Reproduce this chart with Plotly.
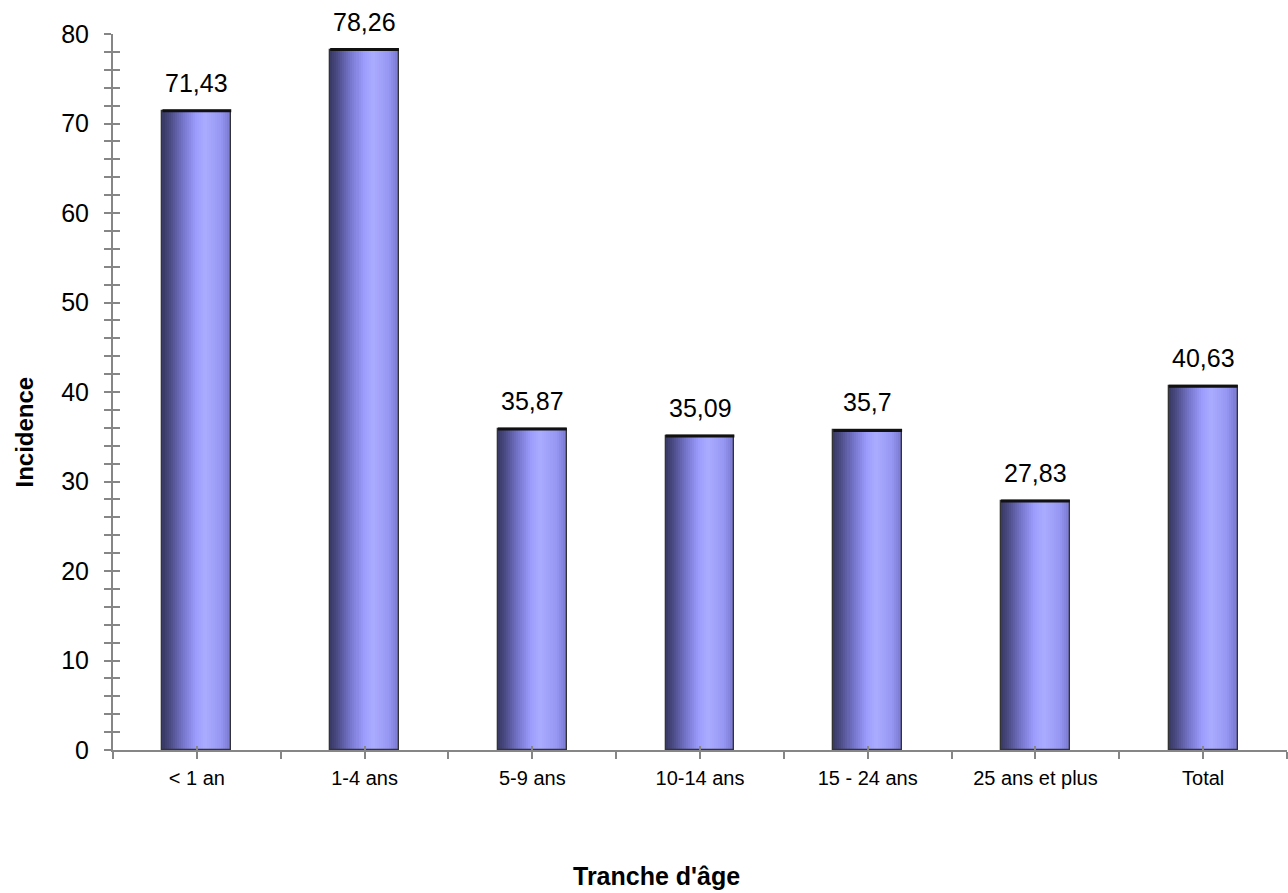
import plotly.graph_objects as go

# ---- data ----
categories = ["< 1 an", "1-4 ans", "5-9 ans", "10-14 ans", "15 - 24 ans", "25 ans et plus", "Total"]
incidence = [71.43, 78.26, 35.87, 35.09, 35.7, 27.83, 40.63]
value_labels = ["71,43", "78,26", "35,87", "35,09", "35,7", "27,83", "40,63"]
y_tick_vals = [0, 10, 20, 30, 40, 50, 60, 70, 80]

# ---- layout constants ----
W, H = 1288, 893
ML, MR, MT, MB = 113, 1, 34, 143
plot_w = W - ML - MR
BAR_W = 0.41
FONT = "Liberation Sans, Arial, sans-serif"
AXIS_COL = "#868686"

xpos = list(range(len(categories)))

# horizontal shading stops for the cylinder look
stops = [(0.0, (56, 56, 98)), (0.12, (78, 78, 138)), (0.3, (118, 118, 205)),
         (0.48, (155, 155, 252)), (0.62, (170, 172, 255)), (0.85, (150, 150, 243)),
         (1.0, (118, 118, 205))]


def shade(t):
    for (t0, c0), (t1, c1) in zip(stops[:-1], stops[1:]):
        if t0 <= t <= t1:
            f = (t - t0) / (t1 - t0) if t1 > t0 else 0
            c = [round(a + (b - a) * f) for a, b in zip(c0, c1)]
            return "rgb(%d,%d,%d)" % tuple(c)
    return "rgb(%d,%d,%d)" % stops[-1][1]


fig = go.Figure()
N = 34
step = BAR_W / N
for i in range(N):
    off = -BAR_W / 2 + i * step
    wid = min(step * 1.6, BAR_W / 2 - off)
    fig.add_trace(go.Bar(x=xpos, y=incidence, width=wid, offset=off,
                         marker=dict(color=shade((i + 0.5) / N), line=dict(width=0)),
                         showlegend=False, hoverinfo="skip"))

# outline
fig.add_trace(go.Bar(x=xpos, y=incidence, width=BAR_W,
                     marker=dict(color="rgba(0,0,0,0)", line=dict(color="#333333", width=1.3)),
                     showlegend=False, hoverinfo="skip"))

# dark top edge (line-ew symbol length = 1.4 * size)
bar_px = BAR_W * plot_w / len(categories)
fig.add_trace(go.Scatter(x=xpos, y=incidence, mode="markers", xaxis="x2", yaxis="y2",
                         marker=dict(symbol="line-ew", size=bar_px / 1.4,
                                     line=dict(color="#111111", width=3)),
                         cliponaxis=False, showlegend=False, hoverinfo="skip"))

annotations = []
for x, v, lbl in zip(xpos, incidence, value_labels):
    annotations.append(dict(x=x, y=v, xref="x", yref="y", text=lbl, showarrow=False,
                            yanchor="bottom", yshift=12,
                            font=dict(family=FONT, size=25, color="#000000")))

annotations.append(dict(x=(23.5 - ML) / plot_w, y=(H - MB - 432) / (H - MT - MB),
                        xref="paper", yref="paper", text="<b>Incidence</b>", textangle=-90,
                        showarrow=False, xanchor="center", yanchor="middle",
                        font=dict(family=FONT, size=24, color="#000000")))
annotations.append(dict(x=(656 - ML) / plot_w, y=(H - MB - 876) / (H - MT - MB),
                        xref="paper", yref="paper", text="<b>Tranche d'âge</b>",
                        showarrow=False, xanchor="center", yanchor="middle",
                        font=dict(family=FONT, size=25, color="#000000")))

xr = [-0.5, len(categories) - 0.5]
yr = [0, 80]

fig.update_layout(
    width=W, height=H,
    margin=dict(l=ML, r=MR, t=MT, b=MB, pad=0),
    paper_bgcolor="white", plot_bgcolor="white",
    barmode="overlay", bargap=0,
    font=dict(family=FONT, color="#000000"),
    annotations=annotations,
    xaxis=dict(range=xr, tickmode="array", tickvals=xpos, ticktext=categories,
               ticks="outside", ticklen=7, tickwidth=2, tickcolor=AXIS_COL,
               minor=dict(ticks="outside", tick0=-0.5, dtick=1, ticklen=7, tickwidth=2,
                          tickcolor=AXIS_COL, showgrid=False),
               showline=True, linecolor=AXIS_COL, linewidth=2,
               showgrid=False, zeroline=False, ticklabelstandoff=2,
               tickfont=dict(family=FONT, size=20, color="#000000")),
    yaxis=dict(range=yr, tickmode="array", tickvals=y_tick_vals,
               ticks="outside", ticklen=7, tickwidth=2, tickcolor=AXIS_COL,
               minor=dict(ticks="outside", tick0=0, dtick=2, ticklen=7, tickwidth=2,
                          tickcolor=AXIS_COL, showgrid=False),
               showline=True, linecolor=AXIS_COL, linewidth=2,
               showgrid=False, zeroline=False, ticklabelstandoff=10,
               tickfont=dict(family=FONT, size=25, color="#000000")),
    xaxis2=dict(range=xr, overlaying="x", anchor="y", tickmode="array", tickvals=xpos,
                ticks="inside", ticklen=4, tickwidth=2, tickcolor=AXIS_COL,
                showticklabels=False, showline=False, showgrid=False, zeroline=False),
    yaxis2=dict(range=yr, overlaying="y", anchor="x", side="left", tickmode="array",
                tickvals=y_tick_vals, ticks="inside", ticklen=7, tickwidth=2,
                tickcolor=AXIS_COL,
                minor=dict(ticks="inside", tick0=0, dtick=2, ticklen=7, tickwidth=2,
                           tickcolor=AXIS_COL, showgrid=False),
                showticklabels=False, showline=False, showgrid=False, zeroline=False),
)

fig.write_html("out.html", config={"displayModeBar": False},
               post_script="document.body.style.margin='0';document.body.style.overflow='hidden';")
